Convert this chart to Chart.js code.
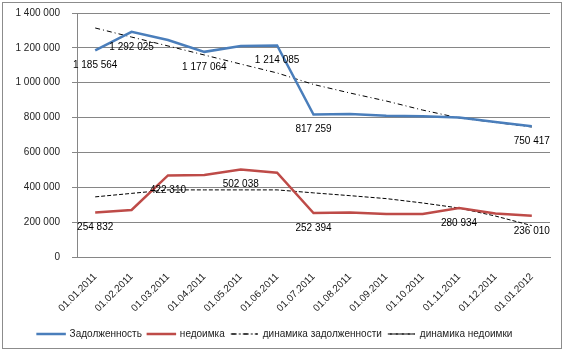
<!DOCTYPE html>
<html lang="ru">
<head>
<meta charset="UTF-8">
<title>Задолженность и недоимка</title>
<script src="https://cdn.jsdelivr.net/npm/chart.js"></script>
<style>
    body { margin: 0; background: #fff; }
    .wrap { width: 564px; height: 351px; position: relative; }
</style>
</head>
<body>
<div class="wrap"><canvas id="chart" width="564" height="351"></canvas></div>
<script>
    // даты
    const dates = ['01.01.2011', '01.02.2011', '01.03.2011', '01.04.2011', '01.05.2011', '01.06.2011',
        '01.07.2011', '01.08.2011', '01.09.2011', '01.10.2011', '01.11.2011', '01.12.2011', '01.01.2012'];

    // задолженность, руб.
    const zadolzh = [1185564, 1292025, 1245000, 1177064, 1210000, 1214085,
        817259, 820000, 810000, 808000, 800000, 775000, 750417];
    // недоимка, руб.
    const nedoimka = [254832, 270000, 468000, 470000, 502038, 484000,
        252394, 256000, 247000, 247000, 280934, 250000, 236010];

    // динамика (линии тренда)
    const dinZadolzh = [1314000, 1262000, 1211000, 1159000, 1107000, 1056000,
        990000, 941000, 895000, 843000, 798000, 772000, 746000];
    const dinNedoimka = [345000, 365000, 385000, 385000, 385000, 385000,
        368000, 352000, 335000, 310000, 281000, 235000, 180000];

    // подписи значений
    const zadolzhLabels = ['1 185 564', '1 292 025', null, '1 177 064', null, '1 214 085',
        '817 259', null, null, null, null, null, '750 417'];
    const nedoimkaLabels = ['254 832', null, '422 310', null, '502 038', null,
        '252 394', null, null, null, '280 934', null, '236 010'];

    const yTicks = [0, 200000, 400000, 600000, 800000, 1000000, 1200000, 1400000];

    const fmt = v => String(v).replace(/\B(?=(\d{3})+(?!\d))/g, ' ');
    const FONT = 'Liberation Sans';

    const valueLabels = {
        id: 'valueLabels',
        afterDatasetsDraw(chart) {
            const ctx = chart.ctx;
            const sets = [zadolzhLabels, nedoimkaLabels];
            ctx.save();
            ctx.font = '10px "' + FONT + '"';
            ctx.fillStyle = '#000';
            ctx.textAlign = 'center';
            ctx.textBaseline = 'middle';
            sets.forEach((arr, di) => {
                const meta = chart.getDatasetMeta(di);
                arr.forEach((txt, i) => {
                    if (!txt) return;
                    const p = meta.data[i];
                    ctx.fillText(txt, p.x, p.y + 15);
                });
            });
            ctx.restore();
        }
    };

    const frame = {
        id: 'frame',
        beforeDraw(chart) {
            const ctx = chart.ctx;
            ctx.save();
            ctx.fillStyle = '#fff';
            ctx.fillRect(0, 0, chart.width, chart.height);
            ctx.strokeStyle = '#8c8c8c';
            ctx.lineWidth = 1;
            ctx.strokeRect(2.5, 2.5, chart.width - 5, chart.height - 5);
            ctx.restore();
        }
    };

    const ctx = document.getElementById('chart').getContext('2d');
    new Chart(ctx, {
        type: 'line',
        data: {
            labels: dates,
            datasets: [
                { label: 'Задолженность', data: zadolzh, borderColor: '#4a7ebb', backgroundColor: '#4a7ebb', borderWidth: 2.5 },
                { label: 'недоимка', data: nedoimka, borderColor: '#be4b48', backgroundColor: '#be4b48', borderWidth: 2.5 },
                { label: 'динамика задолженности', data: dinZadolzh, borderColor: '#000', backgroundColor: '#000', borderWidth: 1, borderDash: [5, 3, 1, 3] },
                { label: 'динамика недоимки', data: dinNedoimka, borderColor: '#000', backgroundColor: '#000', borderWidth: 1, borderDash: [4, 2] }
            ]
        },
        options: {
            responsive: false,
            animation: false,
            elements: { point: { radius: 0 }, line: { tension: 0, fill: false } },
            layout: { padding: { left: 0, right: 14, top: 13, bottom: 2 } },
            plugins: {
                tooltip: { enabled: false },
                legend: {
                    position: 'bottom',
                    labels: {
                        boxWidth: 27,
                        boxHeight: 0.01,
                        padding: 6,
                        color: '#222',
                        font: { family: FONT, size: 10 }
                    }
                }
            },
            scales: {
                x: {
                    offset: true,
                    grid: { display: false, drawTicks: true, tickLength: 5, color: '#868686' },
                    border: { color: '#868686' },
                    ticks: {
                        minRotation: 45, maxRotation: 45, padding: 9, autoSkip: false,
                        color: '#222', font: { family: FONT, size: 10 }
                    },
                    afterFit(scale) { scale.height = 66; scale.paddingTop = 0; scale.paddingBottom = 0; }
                },
                y: {
                    min: 0, max: 1400000,
                    afterBuildTicks(scale) { scale.ticks = yTicks.map(v => ({ value: v })); },
                    grid: { color: '#868686', tickLength: 5 },
                    border: { color: '#868686' },
                    ticks: {
                        padding: 12, color: '#222',
                        font: { family: FONT, size: 10 },
                        callback: v => fmt(v)
                    },
                    afterFit(scale) { scale.width = 77; scale.paddingTop = 0; scale.paddingBottom = 0; }
                }
            }
        },
        plugins: [frame, valueLabels]
    });
</script>
</body>
</html>
